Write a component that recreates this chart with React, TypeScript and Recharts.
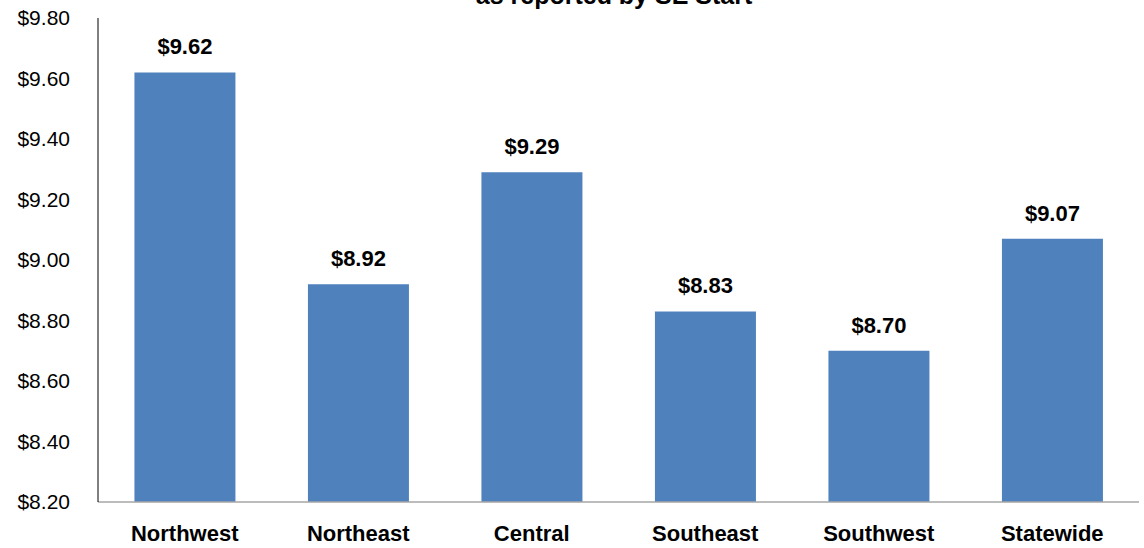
import React from "react";
import { BarChart, Bar, XAxis, YAxis, LabelList } from "recharts";

const regions = ["Northwest", "Northeast", "Central", "Southeast", "Southwest", "Statewide"];
const wages = [9.62, 8.92, 9.29, 8.83, 8.7, 9.07];
const yTicks = [8.2, 8.4, 8.6, 8.8, 9.0, 9.2, 9.4, 9.6, 9.8];
const titleTail = "as reported by SE Start";

const data = regions.map((r, i) => ({ region: r, wage: wages[i] }));
const FONT = "'Liberation Sans', Arial, sans-serif";

export default function App() {
  return (
    <div style={{ position: "absolute", left: 0, top: 0, width: 1144, height: 548, background: "#fff", overflow: "hidden", fontFamily: FONT }}>
      <div style={{ position: "absolute", left: 0, width: 1228, top: -20, textAlign: "center", fontWeight: "bold", fontSize: 25, fontFamily: FONT, color: "#000", lineHeight: "30px", whiteSpace: "nowrap" }}>
        {titleTail}
      </div>
      <BarChart width={1144} height={548} data={data} margin={{ top: 18, right: 5, bottom: 16, left: 0 }} barCategoryGap="21%">
        <XAxis
          dataKey="region"
          axisLine={{ stroke: "#A6A6A6", strokeWidth: 1.5 }}
          tickLine={false}
          tick={{ fill: "#000", fontSize: 22, fontWeight: "bold", fontFamily: FONT }}
          tickMargin={17}
          interval={0}
        />
        <YAxis
          width={98}
          domain={[8.2, 9.8]}
          ticks={yTicks}
          allowDataOverflow
          axisLine={{ stroke: "#000", strokeWidth: 1 }}
          tickLine={false}
          tickMargin={22}
          tick={{ fill: "#000", fontSize: 21, fontFamily: FONT }}
          tickFormatter={(v: number) => "$" + v.toFixed(2)}
        />
        <Bar dataKey="wage" fill="#4F81BD" isAnimationActive={false}>
          <LabelList
            dataKey="wage"
            position="top"
            offset={18}
            formatter={(v: number) => "$" + Number(v).toFixed(2)}
            style={{ fill: "#000", fontSize: 22, fontWeight: "bold", fontFamily: FONT }}
          />
        </Bar>
      </BarChart>
    </div>
  );
}
